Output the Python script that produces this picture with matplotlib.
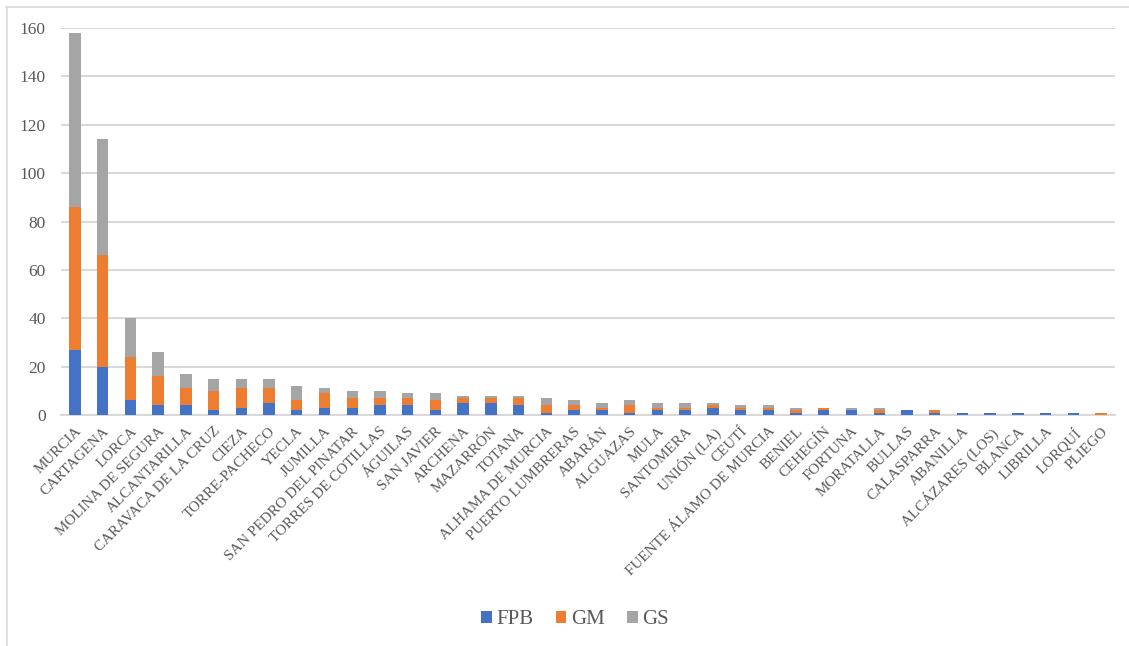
import matplotlib
matplotlib.use("Agg")
import matplotlib.pyplot as plt
from matplotlib.lines import Line2D
import numpy as np

municipios = [
    "MURCIA", "CARTAGENA", "LORCA", "MOLINA DE SEGURA", "ALCANTARILLA",
    "CARAVACA DE LA CRUZ", "CIEZA", "TORRE-PACHECO", "YECLA", "JUMILLA",
    "SAN PEDRO DEL PINATAR", "TORRES DE COTILLAS", "ÁGUILAS", "SAN JAVIER",
    "ARCHENA", "MAZARRÓN", "TOTANA", "ALHAMA DE MURCIA", "PUERTO LUMBRERAS",
    "ABARÁN", "ALGUAZAS", "MULA", "SANTOMERA", "UNIÓN (LA)", "CEUTÍ",
    "FUENTE ÁLAMO DE MURCIA", "BENIEL", "CEHEGÍN", "FORTUNA", "MORATALLA",
    "BULLAS", "CALASPARRA", "ABANILLA", "ALCÁZARES (LOS)", "BLANCA",
    "LIBRILLA", "LORQUÍ", "PLIEGO",
]
fpb = [27, 20, 6, 4, 4, 2, 3, 5, 2, 3, 3, 4, 4, 2, 5, 5, 4, 1, 2,
       2, 1, 2, 2, 3, 2, 2, 1, 2, 2, 1, 2, 1, 1, 1, 1, 1, 1, 0]
gm = [59, 46, 18, 12, 7, 8, 8, 6, 4, 6, 4, 3, 3, 4, 2, 2, 3, 3, 2,
      1, 3, 1, 1, 1, 1, 1, 1, 1, 0, 1, 0, 1, 0, 0, 0, 0, 0, 1]
gs = [72, 48, 16, 10, 6, 5, 4, 4, 6, 2, 3, 3, 2, 3, 1, 1, 1, 3, 2,
      2, 2, 2, 2, 1, 1, 1, 1, 0, 1, 1, 0, 0, 0, 0, 0, 0, 0, 0]
y_ticks = [0, 20, 40, 60, 80, 100, 120, 140, 160]

C_FPB = "#4472C4"
C_GM = "#ED7D31"
C_GS = "#A5A5A5"
GRID = "#D9D9D9"
TXT = "#595959"

plt.rcParams["font.family"] = ["Liberation Serif", "DejaVu Serif"]

fig = plt.figure(figsize=(11.29, 6.46), dpi=100)
ax = fig.add_axes([61 / 1129, 1 - 415 / 646, (1115 - 61) / 1129, (415 - 28) / 646])

x = np.arange(len(municipios))
fpb_a = np.array(fpb)
gm_a = np.array(gm)
gs_a = np.array(gs)
w = 0.41
ax.bar(x, fpb_a, w, color=C_FPB, label="FPB", zorder=3)
ax.bar(x, gm_a, w, bottom=fpb_a, color=C_GM, label="GM", zorder=3)
ax.bar(x, gs_a, w, bottom=fpb_a + gm_a, color=C_GS, label="GS", zorder=3)

ax.set_xlim(-0.5, len(municipios) - 0.5)
ax.set_ylim(0, 160)
ax.set_yticks(y_ticks)
ax.yaxis.grid(True, color=GRID, linewidth=1.5, zorder=0)
ax.set_axisbelow(True)
for s in ("top", "right", "left"):
    ax.spines[s].set_visible(False)
ax.spines["bottom"].set_color(GRID)
ax.spines["bottom"].set_linewidth(1.5)
ax.tick_params(axis="both", length=0, colors=TXT)
ax.tick_params(axis="y", pad=11, labelsize=12.5)

ax.set_xticks(x)
ax.set_xticklabels(municipios, rotation=45, ha="right", va="top",
                   rotation_mode="anchor", fontsize=10.8, color=TXT)
ax.tick_params(axis="x", pad=7)

leg = fig.legend(loc="center", bbox_to_anchor=(575 / 1129, 1 - 620 / 646),
                 ncol=3, frameon=False, fontsize=15, handlelength=0.5,
                 handleheight=0.5, handletextpad=0.2, columnspacing=1.1,
                 labelcolor=TXT)

# Light frame around the chart area
fig.add_artist(Line2D([6 / 1129, 1.0], [1 - 6.5 / 646, 1 - 6.5 / 646],
                      transform=fig.transFigure, color=GRID, linewidth=1.2))
fig.add_artist(Line2D([6.5 / 1129, 6.5 / 1129], [0, 1 - 6.5 / 646],
                      transform=fig.transFigure, color=GRID, linewidth=1.2))

fig.savefig("out.png", dpi=100, facecolor="white")
